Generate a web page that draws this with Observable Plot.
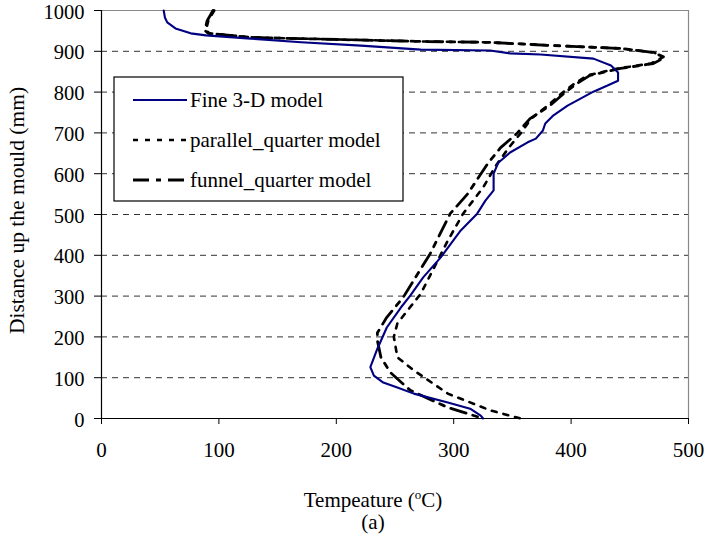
<!DOCTYPE html>
<html>
<head>
<meta charset="utf-8">
<script src="https://cdn.jsdelivr.net/npm/d3@7"></script>
<script src="https://cdn.jsdelivr.net/npm/@observablehq/plot@0.6"></script>
<style>
  html, body { margin: 0; padding: 0; background: #fff; }
  #chart { width: 707px; height: 545px; }
  #chart svg { overflow: visible; }
</style>
</head>
<body>
<div id="chart"></div>
<script>
// ---- data (temperature °C, distance up the mould mm) ----
const fineT = [53,54,56,63,76,89,127,170,221,272,331,348,374,419,434,440,440,431,419,397,385,378,376,370,363,348,338,334,334,327,320,306,289,274,263,255,243,235,229,232,240,252,266,295,314,323,325];
const fineD = [1000,983,971,956,944,939,931,922,914,904,902,895,892,882,865,848,828,816,801,767,743,723,706,686,677,652,627,600,559,534,502,461,395,346,301,272,223,171,126,105,88,76,61,39,24,7,0];

const parT = [96,91,89,92,128,172,276,330,386,443,471,478,468,440,414,403,392,380,366,357,347,336,325,308,295,272,252,249,250,252,266,295,331,357];
const parD = [1000,975,951,944,934,931,924,922,914,907,897,885,870,858,841,821,797,767,735,699,664,620,566,502,436,306,233,200,184,150,118,61,20,0];

const funT = [95,90,88,91,127,170,274,329,385,442,470,480,470,442,416,405,394,382,365,354,340,329,312,297,280,257,243,235,235,238,246,263,295,325];
const funD = [1000,975,951,944,934,931,924,922,914,907,897,885,870,858,841,821,797,767,735,699,664,625,551,502,404,297,248,210,191,150,113,69,27,0];

const seriesNames = ["Fine 3-D model", "parallel_quarter model", "funnel_quarter model"];
const xTicks = [0, 100, 200, 300, 400, 500];
const yTicks = [0, 100, 200, 300, 400, 500, 600, 700, 800, 900, 1000];
const gridY = [100, 200, 300, 400, 500, 600, 700, 800, 900];
const xTitle = "Tempeature (oC)";
const yTitle = "Distance up the mould (mm)";
const caption = "(a)";

// ---- styles ----
const styles = [
  {stroke: "#000080", strokeWidth: 2.1, dash: null},
  {stroke: "#000", strokeWidth: 2.6, dash: "5,7"},
  {stroke: "#000", strokeWidth: 2.8, dash: "16,7,5,7"}
];

const toRows = (T, D) => T.map((t, i) => ({t, d: D[i]}));
const series = [toRows(fineT, fineD), toRows(parT, parD), toRows(funT, funD)];

const font = "'Liberation Serif', 'Times New Roman', serif";

const plot = Plot.plot({
  width: 707,
  height: 545,
  marginLeft: 101,
  marginRight: 19,
  marginTop: 10,
  marginBottom: 127,
  style: {fontFamily: font, fontSize: "21px", background: "#fff", color: "#000", overflow: "visible"},
  x: {domain: [0, 500]},
  y: {domain: [0, 1000]},
  marks: [
    Plot.ruleY(gridY, {stroke: "#333", strokeWidth: 1, strokeDasharray: "6,5"}),
    Plot.ruleY([1000], {stroke: "#888", strokeWidth: 1.2}),
    Plot.ruleX([500], {stroke: "#888", strokeWidth: 1.2}),
    Plot.ruleX([0], {stroke: "#000", strokeWidth: 1.2}),
    Plot.ruleY([0], {stroke: "#000", strokeWidth: 1.2}),
    ...series.map((rows, i) => Plot.line(rows, {
      x: "t", y: "d",
      stroke: styles[i].stroke,
      strokeWidth: styles[i].strokeWidth,
      strokeDasharray: styles[i].dash || undefined,
      strokeLinejoin: "round"
    })).reverse(),
    Plot.axisX(xTicks, {tickSize: 6, tickPadding: 18, fontSize: 21, label: null, tickFormat: d => String(d)}),
    Plot.axisY(yTicks, {tickSize: 7, label: null, tickFormat: () => ""}),
    Plot.axisY(yTicks, {tickSize: 0, tickPadding: 17, fontSize: 20.5, dy: 1.5, label: null, tickFormat: d => String(d)}),
    Plot.text([xTitle], {frameAnchor: "bottom", textAnchor: "middle", dx: -22, dy: 82, fontSize: 21, lineAnchor: "middle"}),
    Plot.text([caption], {frameAnchor: "bottom", textAnchor: "middle", dx: -22, dy: 104, fontSize: 21, lineAnchor: "middle"}),
    Plot.text([yTitle], {frameAnchor: "left", textAnchor: "middle", rotate: -90, dx: -84, dy: -4, fontSize: 21.5, lineAnchor: "middle"})
  ]
});

document.getElementById("chart").appendChild(plot);

// superscript "o" in the x title
const svg = d3.select(plot);
svg.selectAll("text").filter(function() { return this.textContent === xTitle; }).each(function() {
  const t = d3.select(this);
  const target = t.selectAll("tspan").empty() ? t : t.select("tspan");
  target.text(null);
  target.append("tspan").text("Tempeature (");
  target.append("tspan").attr("font-size", 13).attr("dy", "-8").text("o");
  target.append("tspan").attr("dy", "8").text("C)");
});

// legend box inside the frame
const lg = svg.append("g").attr("font-family", font).attr("font-size", 21).attr("text-anchor", "start");
lg.append("rect").attr("x", 114).attr("y", 77).attr("width", 289).attr("height", 124)
  .attr("fill", "#fff").attr("stroke", "#000").attr("stroke-width", 1.2);
seriesNames.forEach((name, i) => {
  const yy = 100 + i * 40;
  lg.append("line").attr("x1", 133).attr("x2", 187).attr("y1", yy).attr("y2", yy)
    .attr("stroke", styles[i].stroke).attr("stroke-width", styles[i].strokeWidth)
    .attr("stroke-dasharray", styles[i].dash);
  lg.append("text").attr("x", 190).attr("y", yy).attr("dy", "0.35em")
    .attr("text-anchor", "start").text(name);
});
</script>
</body>
</html>
